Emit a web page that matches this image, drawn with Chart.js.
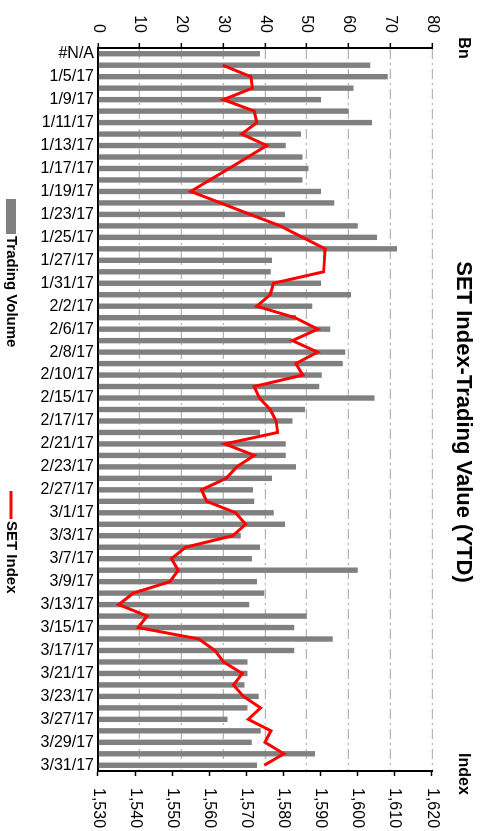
<!DOCTYPE html>
<html>
<head>
<meta charset="utf-8">
<title>SET Index-Trading Value (YTD)</title>
<script src="https://cdn.jsdelivr.net/npm/chart.js@4.4.0/dist/chart.umd.min.js"></script>
<style>
  html, body { margin: 0; padding: 0; background: #fff; overflow: hidden; }
  /* chart is drawn landscape, then turned a quarter clockwise */
  #wrap {
    position: absolute; left: 0; top: 0;
    width: 831px; height: 485px;
    transform-origin: 0 0;
    transform: translate(485px, 0) rotate(90deg);
  }
</style>
</head>
<body>
<div id="wrap"><canvas id="myChart" width="831" height="485"></canvas></div>
<script>
const categories = [
  '#N/A', '1/4/17', '1/5/17', '1/6/17', '1/9/17', '1/10/17', '1/11/17', '1/12/17', '1/13/17', '1/16/17',
  '1/17/17', '1/18/17', '1/19/17', '1/20/17', '1/23/17', '1/24/17', '1/25/17', '1/26/17', '1/27/17', '1/30/17',
  '1/31/17', '2/1/17', '2/2/17', '2/3/17', '2/6/17', '2/7/17', '2/8/17', '2/9/17', '2/10/17', '2/14/17',
  '2/15/17', '2/16/17', '2/17/17', '2/20/17', '2/21/17', '2/22/17', '2/23/17', '2/24/17', '2/27/17', '2/28/17',
  '3/1/17', '3/2/17', '3/3/17', '3/6/17', '3/7/17', '3/8/17', '3/9/17', '3/10/17', '3/13/17', '3/14/17',
  '3/15/17', '3/16/17', '3/17/17', '3/20/17', '3/21/17', '3/22/17', '3/23/17', '3/24/17', '3/27/17', '3/28/17',
  '3/29/17', '3/30/17', '3/31/17'
];

// Bn
const tradingVolume = [
  38.8, 65.2, 69.4, 61.2, 53.4, 60.0, 65.6, 48.6, 45.0, 49.0,
  50.4, 49.0, 53.4, 56.6, 44.8, 62.2, 66.8, 71.6, 41.7, 41.4,
  53.4, 60.6, 51.3, 47.4, 55.6, 46.4, 59.2, 58.6, 53.6, 53.0,
  66.2, 49.6, 46.6, 38.8, 45.0, 45.0, 47.4, 41.7, 37.1, 37.4,
  42.1, 44.8, 34.2, 38.8, 36.9, 62.2, 38.1, 39.8, 36.2, 50.0,
  47.0, 56.2, 47.0, 35.8, 35.8, 35.1, 38.5, 35.8, 31.0, 39.0,
  36.8, 52.0, 38.1
];

const setIndex = [
  null, 1563.6, 1571.2, 1571.6, 1563.8, 1572.1, 1572.8, 1568.7, 1575.5, 1570.4,
  1565.3, 1560.1, 1555.0, 1563.0, 1571.0, 1579.1, 1585.1, 1591.2, 1591.0, 1590.8,
  1577.3, 1576.4, 1572.8, 1583.1, 1589.2, 1582.4, 1589.2, 1583.3, 1585.2, 1572.1,
  1573.5, 1576.4, 1578.0, 1578.4, 1564.2, 1572.1, 1567.4, 1564.5, 1557.9, 1559.3,
  1567.1, 1569.8, 1566.3, 1553.6, 1549.8, 1551.6, 1549.4, 1539.5, 1535.6, 1543.2,
  1540.8, 1557.2, 1561.5, 1563.8, 1568.9, 1566.5, 1569.2, 1573.8, 1570.5, 1576.6,
  1575.0, 1580.1, 1574.8
];

const volumeTicks = { min: 0, max: 80, step: 10 };
const indexTicks = { min: 1530, max: 1620, step: 10 };

const FONT = '"Liberation Sans", Arial, sans-serif';
Chart.defaults.font.family = FONT;
Chart.defaults.color = '#000';

// title, axis units and legend, Excel style
const textPlugin = {
  id: 'texts',
  afterDraw: function(chart) {
    const ctx = chart.ctx;
    const area = chart.chartArea;
    ctx.save();
    ctx.fillStyle = '#000';
    ctx.textBaseline = 'middle';
    ctx.textAlign = 'center';
    ctx.font = 'bold 22px ' + FONT;
    ctx.fillText('SET Index-Trading Value (YTD)', 422, 22);
    ctx.font = 'bold 16px ' + FONT;
    ctx.fillText('Bn', area.left, 22);
    ctx.fillText('Index', area.right + 3, 22);

    const ly = 474;
    const bars = chart.data.datasets[1];
    const line = chart.data.datasets[0];
    ctx.textAlign = 'left';
    ctx.font = 'bold 15px ' + FONT;
    ctx.fillStyle = bars.backgroundColor;
    ctx.fillRect(199, ly - 5, 35, 10);
    ctx.fillStyle = '#000';
    ctx.fillText(bars.label, 236, ly);
    ctx.strokeStyle = line.borderColor;
    ctx.lineWidth = 3;
    ctx.beginPath();
    ctx.moveTo(491, ly);
    ctx.lineTo(519, ly);
    ctx.stroke();
    ctx.fillText(line.label, 521, ly);
    ctx.restore();
  }
};

const ctx = document.getElementById('myChart').getContext('2d');
const chart = new Chart(ctx, {
  type: 'bar',
  data: {
    labels: categories,
    datasets: [{
      type: 'line',
      label: 'SET Index',
      data: setIndex,
      yAxisID: 'y1',
      borderColor: '#ff0000',
      borderWidth: 3,
      pointRadius: 0,
      tension: 0,
      order: 0,
    },
    {
      type: 'bar',
      label: 'Trading Volume',
      data: tradingVolume,
      yAxisID: 'y',
      backgroundColor: '#808080',
      categoryPercentage: 1,
      barPercentage: 0.47,
      order: 1,
    }]
  },
  options: {
    responsive: false,
    animation: false,
    layout: { padding: { top: 53, left: 0, right: 0, bottom: 0 } },
    plugins: {
      legend: { display: false },
      title: { display: false },
      tooltip: { enabled: false },
    },
    scales: {
      x: {
        grid: { drawOnChartArea: false, drawTicks: false },
        border: { color: '#000', width: 2 },
        ticks: {
          autoSkip: false,
          minRotation: 90,
          maxRotation: 90,
          padding: 4,
          font: { size: 16 },
          callback: function(v, i) { return i % 2 ? '' : categories[i]; },
        },
        afterFit: function(scale) { scale.height = 98; },
      },
      y: {
        position: 'left',
        min: volumeTicks.min,
        max: volumeTicks.max,
        ticks: { stepSize: volumeTicks.step, padding: 10, font: { size: 16 } },
        grid: { color: '#b4b4b4', lineWidth: 1.3, tickColor: '#000', tickLength: 5, tickWidth: 1.5 },
        border: { color: '#000', width: 2, dash: [10, 4, 2, 4] },
        afterFit: function(scale) { scale.width = 48; },
      },
      y1: {
        position: 'right',
        min: indexTicks.min,
        max: indexTicks.max,
        ticks: {
          stepSize: indexTicks.step,
          padding: 12,
          font: { size: 16 },
          callback: function(v) { return v.toLocaleString('en-US'); },
        },
        grid: { drawOnChartArea: false, tickColor: '#000', tickLength: 5, tickWidth: 1.5 },
        border: { color: '#000', width: 2 },
        afterFit: function(scale) { scale.width = 60; },
      }
    }
  },
  plugins: [textPlugin]
});
</script>
</body>
</html>
